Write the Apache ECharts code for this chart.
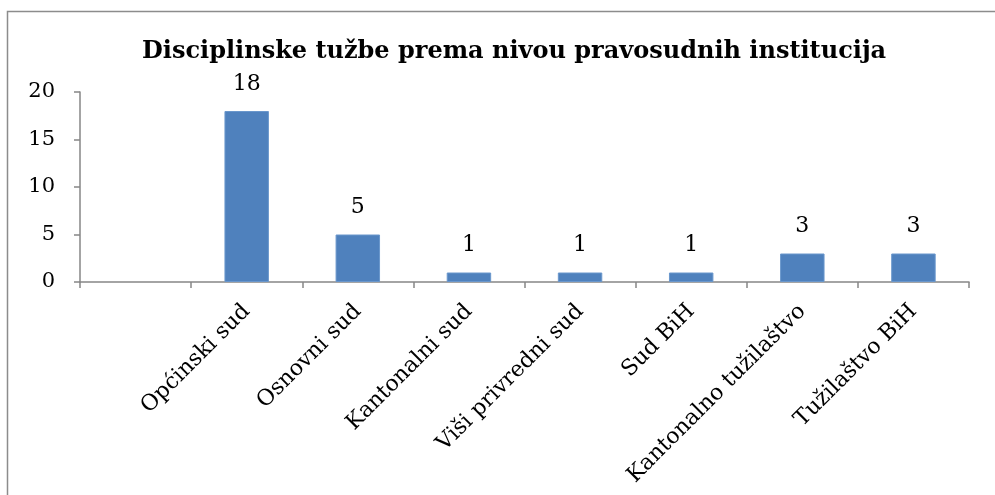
<!DOCTYPE html>
<html>
<head>
<meta charset="utf-8">
<script src="https://cdn.jsdelivr.net/npm/echarts@6/dist/echarts.min.js"></script>
<style>
  html, body { margin: 0; padding: 0; background: #fff; }
  #chart { width: 995px; height: 495px; }
</style>
</head>
<body>
<div id="chart"></div>
<script>
// categories (first slot is empty in the original)
var categories = ['', 'Općinski sud', 'Osnovni sud', 'Kantonalni sud', 'Viši privredni sud',
  'Sud BiH', 'Kantonalno tužilaštvo', 'Tužilaštvo BiH'];
var tuzbe = [null, 18, 5, 1, 1, 1, 3, 3];
var yTicks = [0, 5, 10, 15, 20];

var serif = '"DejaVu Serif", serif';
var axisGray = '#868686';

var chart = echarts.init(document.getElementById('chart'));

var option = {
  backgroundColor: '#ffffff',
  animation: false,
  title: {
    text: 'Disciplinske tužbe prema nivou pravosudnih institucija',
    left: 137,
    top: 35,
    textStyle: {
      fontFamily: serif,
      fontWeight: 'bold',
      fontSize: 24,
      color: '#000'
    }
  },
  grid: {
    left: 80,
    right: 26,
    top: 92,
    bottom: 213
  },
  xAxis: {
    type: 'category',
    data: categories,
    axisLine: { lineStyle: { color: axisGray, width: 1.5 } },
    axisTick: { show: true, length: 6, lineStyle: { color: axisGray, width: 1.5 } },
    axisLabel: {
      interval: 0,
      rotate: 45,
      margin: 26,
      fontFamily: serif,
      fontSize: 22,
      color: '#000'
    }
  },
  yAxis: {
    type: 'value',
    min: yTicks[0],
    max: yTicks[yTicks.length - 1],
    interval: 5,
    splitLine: { show: false },
    axisLine: { show: true, lineStyle: { color: axisGray, width: 1.5 } },
    axisTick: { show: true, length: 6, lineStyle: { color: axisGray, width: 1.5 } },
    axisLabel: {
      margin: 25,
      fontFamily: serif,
      fontSize: 21,
      color: '#000'
    }
  },
  series: [{
    name: 'Tužbe',
    type: 'bar',
    data: tuzbe,
    barWidth: '40%',
    itemStyle: { color: '#4f81bd', borderColor: '#6a97cc', borderWidth: 1 },
    label: {
      show: true,
      position: 'top',
      distance: 16,
      fontFamily: serif,
      fontSize: 22,
      color: '#000'
    }
  }],
  graphic: [{
    type: 'polyline',
    shape: { points: [[7.5, 495], [7.5, 11.5], [995, 11.5]] },
    style: { stroke: '#8c8c8c', lineWidth: 1.5, fill: null }
  }]
};

chart.setOption(option);
</script>
</body>
</html>
